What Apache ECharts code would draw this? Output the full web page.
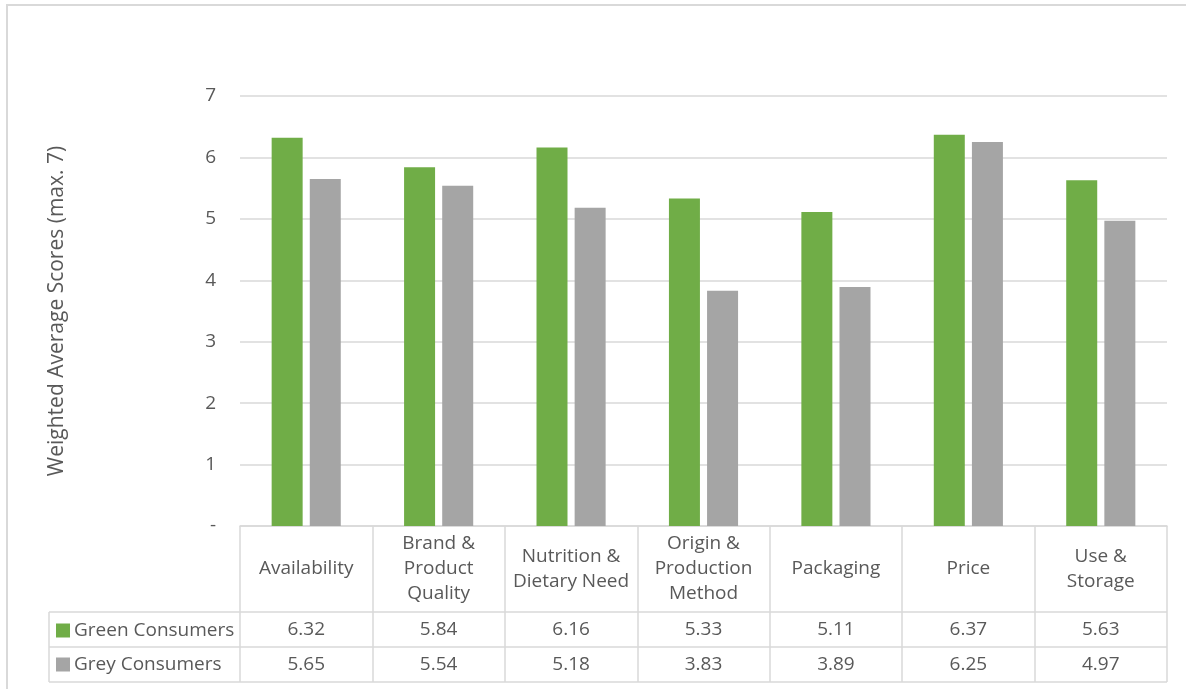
<!DOCTYPE html>
<html>
<head>
<meta charset="utf-8">
<script src="https://cdn.jsdelivr.net/npm/echarts@6/dist/echarts.min.js"></script>
<style>
  html, body { margin: 0; padding: 0; background: #fff; }
  #chart { width: 1186px; height: 689px; }
</style>
</head>
<body>
<div id="chart"></div>
<script>
const CATEGORIES = ['Availability', 'Brand &\nProduct\nQuality', 'Nutrition &\nDietary Need',
  'Origin &\nProduction\nMethod', 'Packaging', 'Price', 'Use &\nStorage']
const GREEN = [6.32, 5.84, 6.16, 5.33, 5.11, 6.37, 5.63]
const GREY = [5.65, 5.54, 5.18, 3.83, 3.89, 6.25, 4.97]
const SERIES_NAMES = ['Green Consumers', 'Grey Consumers']
const Y_TICKS = { min: 0, max: 7, interval: 1 }

const TEXT = '#595959'
const LINE = '#d9d9d9'
const FONT = 'Open Sans'
const FS = 19

// table layout (px)
const GRID_LEFT = 240, GRID_RIGHT = 19, GRID_TOP = 96, GRID_BOTTOM = 163
const TABLE_LEFT = 49, HEAD_H = 86, ROW_H = 35

const chart = echarts.init(document.getElementById('chart'))
const W = 1186, H = 689
const axisY = H - GRID_BOTTOM
const tableRight = W - GRID_RIGHT

function hLine(y) {
  return { type: 'line', shape: { x1: TABLE_LEFT, y1: y, x2: tableRight, y2: y }, style: { stroke: LINE, lineWidth: 1.5 } }
}

chart.setOption({
  animation: false,
  textStyle: { fontFamily: FONT },
  grid: { left: GRID_LEFT, right: GRID_RIGHT, top: GRID_TOP, bottom: GRID_BOTTOM },
  legend: {
    data: SERIES_NAMES,
    orient: 'vertical',
    left: 51, top: 616,
    icon: 'rect', itemWidth: 14, itemHeight: 14, itemGap: 15,
    textStyle: { color: TEXT, fontSize: FS, fontFamily: FONT, padding: [0, 0, 0, -1] }
  },
  xAxis: [
    {
      type: 'category', data: CATEGORIES, position: 'bottom',
      axisLine: { show: true, lineStyle: { color: LINE, width: 1.5 } },
      axisTick: { show: true, length: HEAD_H + 2 * ROW_H, interval: 0, lineStyle: { color: LINE, width: 1.5 } },
      axisLabel: { color: TEXT, fontSize: FS, lineHeight: 25, margin: HEAD_H / 2, verticalAlign: 'middle', interval: 0 }
    },
    {
      type: 'category', data: CATEGORIES, position: 'bottom', offset: HEAD_H,
      axisLine: { show: false }, axisTick: { show: false },
      axisLabel: { color: TEXT, fontSize: FS, margin: ROW_H / 2, verticalAlign: 'middle', interval: 0,
        formatter: (v, i) => GREEN[i].toFixed(2) }
    },
    {
      type: 'category', data: CATEGORIES, position: 'bottom', offset: HEAD_H + ROW_H,
      axisLine: { show: false }, axisTick: { show: false },
      axisLabel: { color: TEXT, fontSize: FS, margin: ROW_H / 2, verticalAlign: 'middle', interval: 0,
        formatter: (v, i) => GREY[i].toFixed(2) }
    }
  ],
  yAxis: {
    type: 'value', min: Y_TICKS.min, max: Y_TICKS.max, interval: Y_TICKS.interval,
    name: 'Weighted Average Scores (max. 7)',
    nameLocation: 'middle', nameGap: 172,
    nameTextStyle: { color: TEXT, fontSize: 21 },
    axisLine: { show: false }, axisTick: { show: false },
    axisLabel: { color: TEXT, fontSize: FS, margin: 24, formatter: v => v === 0 ? '-' : v },
    splitLine: { lineStyle: { color: LINE, width: 1.5 } }
  },
  series: [
    { name: SERIES_NAMES[0], type: 'bar', data: GREEN, itemStyle: { color: '#70ad47' },
      barWidth: 31, barGap: '23%' },
    { name: SERIES_NAMES[1], type: 'bar', data: GREY, itemStyle: { color: '#a5a5a5' },
      barWidth: 31 }
  ],
  graphic: [
    { type: 'rect', shape: { x: 7, y: 5, width: W, height: H }, style: { fill: 'none', stroke: LINE, lineWidth: 2 }, silent: true },
    hLine(axisY + HEAD_H),
    hLine(axisY + HEAD_H + ROW_H),
    hLine(axisY + HEAD_H + 2 * ROW_H),
    { type: 'line', shape: { x1: TABLE_LEFT, y1: axisY + HEAD_H, x2: TABLE_LEFT, y2: axisY + HEAD_H + 2 * ROW_H }, style: { stroke: LINE, lineWidth: 1.5 } }
  ]
})
</script>
</body>
</html>
